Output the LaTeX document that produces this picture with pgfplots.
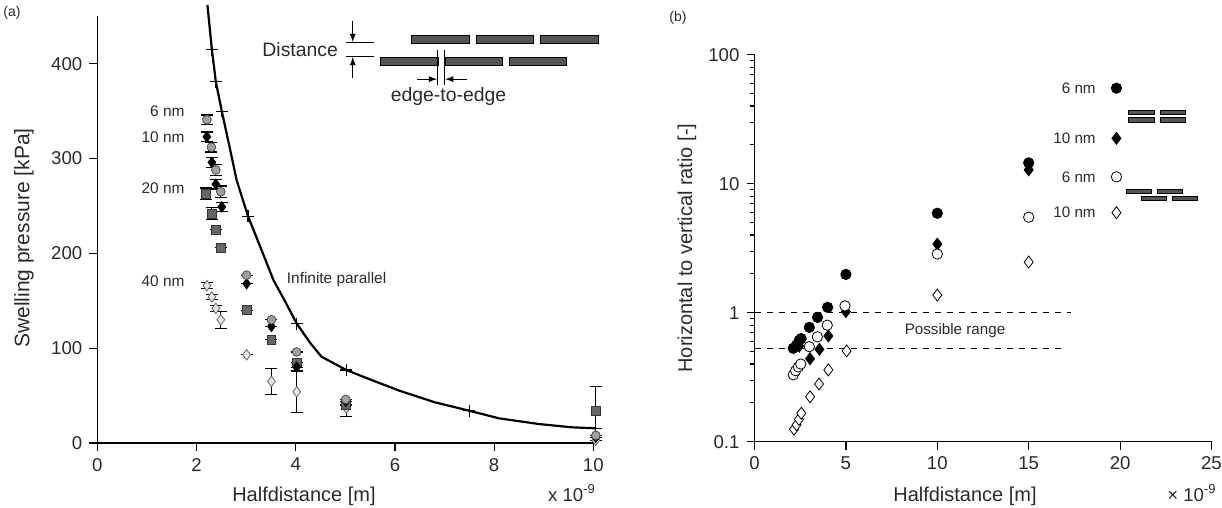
\documentclass[border=0pt]{standalone}
\usepackage{fontspec}
\setmainfont{Liberation Sans}
\usepackage{pgfplots}
\pgfplotsset{compat=1.18}
\definecolor{barfill}{HTML}{555555}
\definecolor{circfill}{HTML}{A0A0A0}
\definecolor{sqfill}{HTML}{666666}
\definecolor{dmfill}{HTML}{E6E6E6}
\definecolor{txt}{HTML}{2A2A2A}
\begin{document}
\begin{tikzpicture}[every node/.append style={text=txt}]
\useasboundingbox (0pt,0pt) rectangle (611pt,254pt);
\pgfplotsset{
  myaxis/.style={
    anchor=south west, scale only axis, clip=false,
    axis x line*=bottom, axis y line*=left,
    axis line style={-, black, line width=0.6pt},
    tick align=outside, major tick length=4pt, minor tick length=2.2pt,
    tick style={black, line width=0.6pt},
    ticklabel style={font=\fontsize{9.3}{11}\selectfont, text=txt},
    /pgf/number format/assume math mode=true,
  },
  ebar/.style={error bars/.cd, y dir=both, y explicit,
    error bar style={black, line width=0.6pt},
    error mark options={rotate=90, black, mark size=3pt, line width=0.6pt}},
}
% ---------------- panel (a) ----------------
\begin{axis}[myaxis, at={(48.65pt,32.5pt)}, width=250.5pt, height=213.3pt,
  xmin=0, xmax=10.1, ymin=0, ymax=450,
  xtick={0,2,...,10}, ytick={0,100,...,400}]
% infinite parallel curve
\addplot[black, line width=1.1pt] coordinates {
 (2.22,462) (2.31,415) (2.39,381) (2.51,350) (2.68,309) (2.81,277) (3.04,239)
 (3.3,205) (3.55,172) (3.8,148) (4.02,126) (4.3,105) (4.52,91) (5.02,77)
 (5.5,67) (6.1,55) (6.8,43) (7.5,34) (8.1,26) (8.9,20) (9.58,16.5) (10.05,15.5)};
\addplot[only marks, mark=+, mark size=3pt, black, line width=0.6pt] coordinates {
 (2.31,415) (2.39,381) (2.51,350) (3.04,239) (4.02,126) (5.02,77) (7.5,34) (10.05,15.5)};
% 40 nm
\addplot[only marks, mark=diamond*, mark size=2.6pt, draw=gray!80!black, fill=dmfill, ebar] coordinates {
 (2.21,166) +- (0,3) (2.31,154) +- (0,3) (2.39,142) +- (0,3) (2.49,130) +- (0,9)
 (3.01,93) +- (0,0) (3.51,65) +- (0,14) (4.02,54) +- (0,22) (5.02,37) +- (0,9) (10.05,3) +- (0,0)};
% 20 nm
\addplot[only marks, mark=square*, mark size=2.2pt, draw=black!80, fill=sqfill, ebar] coordinates {
 (2.19,263) +- (0,6) (2.31,242) +- (0,6) (2.39,225) +- (0,0) (2.49,206) +- (0,0)
 (3.01,140) +- (0,0) (3.51,109) +- (0,0) (4.02,85) +- (0,0) (5.01,40) +- (0,0) (10.05,34) +- (0,26)};
% 10 nm
\addplot[only marks, mark=diamond*, mark size=2.6pt, black, ebar] coordinates {
 (2.21,323) +- (0,5) (2.31,296) +- (0,5) (2.39,273) +- (0,5) (2.51,249) +- (0,5)
 (3.01,168) +- (0,0) (3.51,123) +- (0,0) (4.02,80) +- (0,0) (5.01,44) +- (0,0) (10.05,6) +- (0,0)};
% 6 nm
\addplot[only marks, mark=*, mark size=2.2pt, draw=black!70, fill=circfill, ebar] coordinates {
 (2.21,341) +- (0,5) (2.30,312) +- (0,5) (2.39,288) +- (0,6) (2.49,265) +- (0,6)
 (3.01,177) +- (0,0) (3.51,130) +- (0,0) (4.02,96) +- (0,0) (5.01,46) +- (0,0) (10.05,8) +- (0,0)};
% labels
\begin{scope}[font=\fontsize{7.7}{9}\selectfont]
\node[anchor=east] at (axis cs:1.9,350) {6 nm};
\node[anchor=east] at (axis cs:1.9,323) {10 nm};
\node[anchor=east] at (axis cs:1.9,269) {20 nm};
\node[anchor=east] at (axis cs:1.9,171) {40 nm};
\node[anchor=west] at (axis cs:3.68,172) {Infinite parallel};
\end{scope}
% schematic inset
\begin{scope}[draw=black, line width=0.4pt]
\filldraw[fill=barfill] (axis cs:6.34,421.6) rectangle (axis cs:7.51,429.6);
\filldraw[fill=barfill] (axis cs:7.64,421.6) rectangle (axis cs:8.80,429.6);
\filldraw[fill=barfill] (axis cs:8.94,421.6) rectangle (axis cs:10.10,429.6);
\filldraw[fill=barfill] (axis cs:5.71,398.7) rectangle (axis cs:6.875,406.9);
\filldraw[fill=barfill] (axis cs:7.01,398.7) rectangle (axis cs:8.17,406.9);
\filldraw[fill=barfill] (axis cs:8.30,398.7) rectangle (axis cs:9.46,406.9);
\draw (axis cs:5.01,422.7) -- (axis cs:5.58,422.7);
\draw (axis cs:5.01,407.5) -- (axis cs:5.58,407.5);
\draw[-latex] (axis cs:5.15,445.5) -- (axis cs:5.15,423.2);
\draw[-latex] (axis cs:5.15,384.7) -- (axis cs:5.15,407.0);
\draw (axis cs:6.86,414.6) -- (axis cs:6.86,377.6);
\draw (axis cs:7.00,414.6) -- (axis cs:7.00,377.6);
\draw[-latex] (axis cs:6.44,383.8) -- (axis cs:6.845,383.8);
\draw[-latex] (axis cs:7.45,383.8) -- (axis cs:7.015,383.8);
\end{scope}
\node[font=\fontsize{9.7}{11}\selectfont] at (axis cs:4.09,415.3) {Distance};
\node[font=\fontsize{9.7}{11}\selectfont] at (axis cs:7.08,365.3) {edge-to-edge};
\end{axis}
% ---------------- panel (b) ----------------
\begin{axis}[myaxis, at={(377.25pt,33.15pt)}, width=228.5pt, height=193.5pt,
  xmin=0, xmax=25, ymode=log, ymin=0.1, ymax=100,
  xtick={0,5,...,25}, ytick={0.1,1,10,100}, yticklabels={0.1,1,10,100},
  minor ytick={0.2,0.3,0.4,0.5,0.6,0.7,0.8,0.9,2,3,4,5,6,7,8,9,20,30,40,50,60,70,80,90}]
\addplot[black, dashed, line width=0.6pt] coordinates {(0,1.0) (17.3,1.0)};
\addplot[black, dashed, line width=0.6pt] coordinates {(0,0.53) (16.75,0.53)};
% 6 nm parallel (filled circle)
\addplot[only marks, mark=*, mark size=2.6pt, black] coordinates {
 (2.12,0.53) (2.3,0.56) (2.45,0.61) (2.55,0.63) (3.0,0.77) (3.45,0.92) (4.0,1.10)
 (5.0,1.98) (10.0,5.9) (15.0,14.5) (19.8,55)};
% 10 nm parallel (filled diamond)
\addplot[only marks, mark=diamond*, mark size=3pt, black] coordinates {
 (2.45,0.55) (3.04,0.44) (3.55,0.52) (4.04,0.66) (5.0,1.02) (10.0,3.4) (15.0,12.8) (19.8,22.5)};
% 6 nm staggered (open circle)
\addplot[only marks, mark=*, mark size=2.6pt, draw=black, fill=white] coordinates {
 (2.12,0.33) (2.25,0.355) (2.4,0.38) (2.53,0.40) (3.0,0.545) (3.44,0.65) (3.98,0.80)
 (4.95,1.13) (10.0,2.85) (15.0,5.5) (19.8,11.3)};
% 10 nm staggered (open diamond)
\addplot[only marks, mark=diamond*, mark size=3pt, draw=black, fill=white] coordinates {
 (2.16,0.125) (2.3,0.135) (2.43,0.149) (2.56,0.166) (3.04,0.223) (3.53,0.28) (4.04,0.36)
 (5.04,0.505) (10.0,1.37) (15.0,2.47) (19.8,5.96)};
\begin{scope}[font=\fontsize{7.6}{9}\selectfont]
\node[anchor=east] at (axis cs:19.05,55) {6 nm};
\node[anchor=east] at (axis cs:19.05,22.5) {10 nm};
\node[anchor=east] at (axis cs:19.05,11.3) {6 nm};
\node[anchor=east] at (axis cs:19.05,5.96) {10 nm};
\node at (axis cs:10.97,0.73) {Possible range};
\end{scope}
\begin{scope}[draw=black, line width=0.4pt]
\filldraw[fill=barfill] (axis cs:20.47,34.7) rectangle (axis cs:21.85,37.3);
\filldraw[fill=barfill] (axis cs:22.18,34.7) rectangle (axis cs:23.57,37.3);
\filldraw[fill=barfill] (axis cs:20.47,29.7) rectangle (axis cs:21.85,32.5);
\filldraw[fill=barfill] (axis cs:22.18,29.7) rectangle (axis cs:23.57,32.5);
\filldraw[fill=barfill] (axis cs:20.36,8.47) rectangle (axis cs:21.73,9.1);
\filldraw[fill=barfill] (axis cs:22.06,8.47) rectangle (axis cs:23.42,9.1);
\filldraw[fill=barfill] (axis cs:21.18,7.38) rectangle (axis cs:22.55,7.93);
\filldraw[fill=barfill] (axis cs:22.88,7.38) rectangle (axis cs:24.25,7.93);
\end{scope}
\end{axis}
% ---------------- outer text ----------------
\node[font=\fontsize{7}{8}\selectfont] at (6pt,247.5pt) {(a)};
\node[font=\fontsize{7}{8}\selectfont] at (339pt,245pt) {(b)};
\node[rotate=90, font=\fontsize{10.5}{12}\selectfont] at (12pt,135pt) {Swelling pressure [kPa]};
\node[rotate=90, font=\fontsize{10}{12}\selectfont] at (343.5pt,130pt) {Horizontal to vertical ratio [-]};
\node[font=\fontsize{10}{12}\selectfont] at (152pt,6pt) {Halfdistance [m]};
\node[font=\fontsize{9.3}{11}\selectfont] at (286pt,7.5pt) {x 10\textsuperscript{-9}};
\node[font=\fontsize{10}{12}\selectfont] at (482.5pt,6pt) {Halfdistance [m]};
\node[font=\fontsize{9.3}{11}\selectfont] at (596pt,7.5pt) {× 10\textsuperscript{-9}};
\end{tikzpicture}
\end{document}
